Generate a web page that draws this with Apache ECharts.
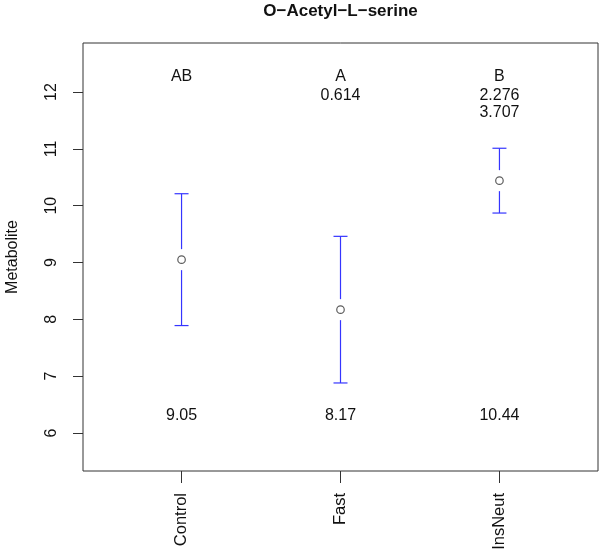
<!DOCTYPE html>
<html>
<head>
<meta charset="utf-8">
<script src="https://cdn.jsdelivr.net/npm/echarts@6/dist/echarts.min.js"></script>
<style>html,body{margin:0;padding:0;background:#fff;}#c{width:600px;height:553px;}</style>
</head>
<body>
<div id="c"></div>
<script>
const categories = ['Control', 'Fast', 'InsNeut'];
const xPositions = [1, 2, 3];
const means = [9.05, 8.17, 10.44];
const lowerCI = [7.89, 6.88, 9.87];
const upperCI = [10.21, 9.46, 11.01];
const groupLetters = ['AB', 'A', 'B'];
const statTexts = [[], ['0.614'], ['2.276', '3.707']];
const meanLabels = ['9.05', '8.17', '10.44'];
const yTicks = [6, 7, 8, 9, 10, 11, 12];

const FONT = 'Liberation Sans, Arial, sans-serif';
const chart = echarts.init(document.getElementById('c'), null, {renderer: 'canvas'});

const barData = xPositions.map((x, i) => [x, means[i], lowerCI[i], upperCI[i]]);
const textData = xPositions.map((x, i) => [x, i]);

const option = {
  backgroundColor: '#fff',
  animation: false,
  title: {
    text: 'O\u2212Acetyl\u2212L\u2212serine',
    left: 340.5, top: 3, padding: 0, textAlign: 'center',
    textStyle: {fontFamily: FONT, fontSize: 17, fontWeight: 'bold', color: '#111'}
  },
  grid: {left: 83, right: 2, top: 43, bottom: 82, containLabel: false, outerBoundsMode: 'none',
         show: true, borderColor: '#333', borderWidth: 1, backgroundColor: 'transparent'},
  xAxis: {
    type: 'value', min: 0.38, max: 3.62,
    axisLine: {show: false},
    splitLine: {show: false},
    axisTick: {show: true, length: 12, lineStyle: {color: '#333'}, customValues: xPositions},
    axisLabel: {
      customValues: xPositions, rotate: 90, margin: 22,
      fontFamily: FONT, fontSize: 16.5, color: '#111',
      formatter: v => categories[Math.round(v) - 1]
    }
  },
  yAxis: {
    type: 'value', min: 5.331, max: 12.862,
    name: 'Metabolite', nameLocation: 'middle', nameRotate: 90, nameGap: 62,
    nameTextStyle: {fontFamily: FONT, fontSize: 16, color: '#111'},
    axisLine: {show: false},
    splitLine: {show: false},
    axisTick: {show: true, length: 10, lineStyle: {color: '#333'}, customValues: yTicks},
    axisLabel: {
      customValues: yTicks, rotate: 90, margin: 23,
      fontFamily: FONT, fontSize: 16, color: '#111'
    }
  },
  series: [
    {
      type: 'custom',
      data: barData,
      renderItem: function (params, api) {
        const x = api.value(0);
        const c = api.coord([x, api.value(1)]);
        const lo = api.coord([x, api.value(2)]);
        const hi = api.coord([x, api.value(3)]);
        const gap = 10.5, cap = 7;
        const st = {stroke: '#3535ff', lineWidth: 1.2};
        return {
          type: 'group',
          children: [
            {type: 'line', shape: {x1: c[0], y1: hi[1], x2: c[0], y2: c[1] - gap}, style: st},
            {type: 'line', shape: {x1: c[0], y1: c[1] + gap, x2: c[0], y2: lo[1]}, style: st},
            {type: 'line', shape: {x1: c[0] - cap, y1: hi[1], x2: c[0] + cap, y2: hi[1]}, style: st},
            {type: 'line', shape: {x1: c[0] - cap, y1: lo[1], x2: c[0] + cap, y2: lo[1]}, style: st}
          ]
        };
      },
      z: 2
    },
    {
      type: 'scatter',
      data: xPositions.map((x, i) => [x, means[i]]),
      symbol: 'circle', symbolSize: 7.5,
      itemStyle: {color: '#fff', borderColor: '#333', borderWidth: 1.2},
      z: 3
    },
    {
      type: 'custom',
      data: textData,
      renderItem: function (params, api) {
        const cs = params.coordSys;
        const i = api.value(1);
        const px = api.coord([api.value(0), means[i]])[0];
        const ts = {fontFamily: FONT, fontSize: 16, fill: '#111', align: 'center', verticalAlign: 'middle'};
        const children = [
          {type: 'text', x: px, y: cs.y + 34, style: Object.assign({text: groupLetters[i]}, ts)},
          {type: 'text', x: px, y: cs.y + cs.height - 55.5, style: Object.assign({text: meanLabels[i]}, ts)}
        ];
        statTexts[i].forEach((t, k) => {
          children.push({type: 'text', x: px, y: cs.y + 53 + k * 17, style: Object.assign({text: t}, ts)});
        });
        return {type: 'group', children: children};
      },
      z: 4
    }
  ]
};
chart.setOption(option);
</script>
</body>
</html>
